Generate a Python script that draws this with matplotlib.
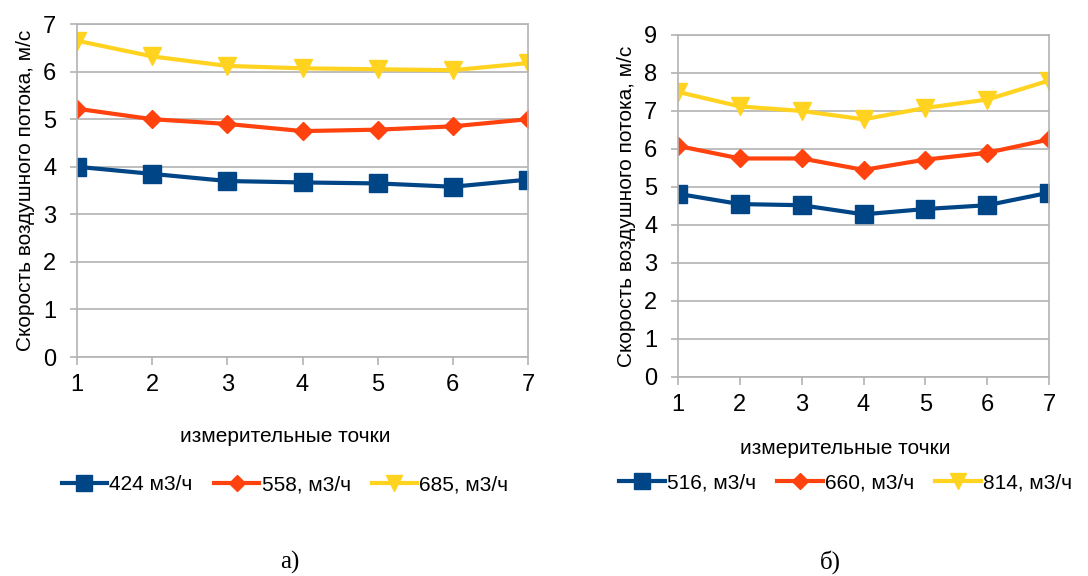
import matplotlib.pyplot as plt

points = [1, 2, 3, 4, 5, 6, 7]

# chart a)
labels_a = ["424 м3/ч", "558, м3/ч", "685, м3/ч"]
low_a = [4.0, 3.85, 3.70, 3.67, 3.65, 3.58, 3.73]
mid_a = [5.22, 5.0, 4.9, 4.75, 4.78, 4.85, 5.0]
high_a = [6.65, 6.32, 6.12, 6.07, 6.05, 6.03, 6.18]

# chart б)
labels_b = ["516, м3/ч", "660, м3/ч", "814, м3/ч"]
low_b = [4.82, 4.55, 4.52, 4.28, 4.42, 4.52, 4.85]
mid_b = [6.08, 5.75, 5.75, 5.45, 5.72, 5.90, 6.25]
high_b = [7.50, 7.12, 7.00, 6.78, 7.08, 7.30, 7.80]

colors = ["#004586", "#ff420e", "#ffd320"]
markers = ["s", "D", "v"]
msizes = [13, 9, 13]

plt.rcParams["font.family"] = ["Liberation Sans", "DejaVu Sans"]

YLABEL = "Скорость воздушного потока, м/с"
XLABEL = "измерительные точки"


def draw(ax, series, labels, ymax, legend_center, legend_y, xlabel_y):
    for vals, lab, c, m, ms in zip(series, labels, colors, markers, msizes):
        ax.plot(points, vals, color=c, lw=3, marker=m, markersize=ms, label=lab)
    ax.set_xlim(1, 7)
    ax.set_ylim(0, ymax)
    ax.set_xticks(points)
    ax.set_yticks(range(0, ymax + 1))
    ax.grid(axis="y", color="#b3b3b3", lw=1.2)
    for s in ax.spines.values():
        s.set_color("#b3b3b3")
        s.set_linewidth(1.2)
    ax.tick_params(axis="x", colors="#b3b3b3", length=6, width=1.2, pad=6,
                   labelcolor="black", labelsize=17)
    ax.tick_params(axis="y", colors="#b3b3b3", length=5, width=1.2, pad=10,
                   labelcolor="black", labelsize=17)
    ax.set_ylabel(YLABEL, fontsize=15, labelpad=6)
    fig = ax.figure
    fig.text(legend_center, xlabel_y, XLABEL, ha="center", va="center", fontsize=15)
    ax.legend(loc="center", bbox_to_anchor=(legend_center, legend_y),
              bbox_transform=fig.transFigure, ncol=3, frameon=False,
              fontsize=15, handlelength=2.2, handletextpad=0.1,
              columnspacing=1.0, markerscale=0.9)


fig = plt.figure(figsize=(10.88, 5.76), dpi=100)

ax1 = fig.add_axes([0.0708, 0.3802, 0.4145, 0.578])
draw(ax1, [low_a, mid_a, high_a], labels_a, 7, 0.262, 1 - 485 / 576, 1 - 437 / 576)

ax2 = fig.add_axes([0.6232, 0.3455, 0.341, 0.5938])
draw(ax2, [low_b, mid_b, high_b], labels_b, 9, 0.777, 1 - 483 / 576, 1 - 449 / 576)

fig.text(290 / 1088, 1 - 562 / 576, "а)", family="Liberation Serif", fontsize=18,
         ha="center", va="center")
fig.text(830 / 1088, 1 - 562 / 576, "б)", family="Liberation Serif", fontsize=18,
         ha="center", va="center")

plt.savefig("out.png", dpi=100)
